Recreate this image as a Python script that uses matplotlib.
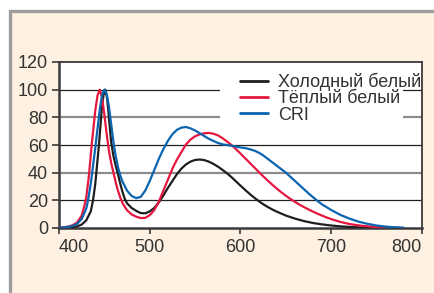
import matplotlib
matplotlib.use("Agg")
import matplotlib.pyplot as plt
from matplotlib.patches import Rectangle
import numpy as np

plt.rcParams['font.family'] = ['Liberation Sans Narrow', 'Liberation Sans', 'DejaVu Sans']

# ---- data ----
series_names = ["Холодный белый", "Тёплый белый", "CRI"]

cold_nm = [400, 405, 410, 415, 420, 425, 430, 435, 437.5, 440, 444, 447, 449, 451, 453, 455, 457.5,
           460, 462.5, 465, 467.5, 470, 472.5, 475, 480, 485, 490, 495, 500, 505, 510, 515, 520,
           525, 530, 535, 540, 545, 550, 555, 560, 565, 570, 575, 580, 585, 590, 595, 600, 605,
           610, 615, 620, 625, 630, 635, 640, 650, 660, 670, 680, 690, 700, 710, 720, 730, 740,
           750, 760, 770, 780]
cold_val = [0, 0.1, 0.3, 0.6, 1.2, 2.5, 5.5, 12, 20, 32, 60, 85, 96, 100, 94, 80, 62,
            52, 45, 39, 32, 26, 21, 17.8, 14.5, 12.4, 10.8, 10.6, 12, 14.5, 18.5, 23.5, 29,
            34, 39, 43, 46, 48, 49.2, 49.5, 49.1, 48, 46.4, 44.4, 42.1, 39.6, 36.8, 33.7, 30.6, 27.6,
            24.7, 22, 19.5, 17.2, 15.2, 13.4, 11.8, 9, 6.8, 5, 3.6, 2.6, 1.8, 1.2, 0.8, 0.5, 0.3,
            0.2, 0.1, 0.05, 0]

warm_nm = [400, 405, 410, 415, 420, 425, 428, 430, 433, 436, 440, 442.5, 445, 447.5, 450, 452.5, 455,
           457.5, 460, 462.5, 465, 467.5, 470, 475, 480, 485, 490, 495, 500, 505, 510, 515, 520,
           525, 530, 535, 540, 545, 550, 555, 560, 565, 570, 575, 580, 585, 590, 595, 600, 605,
           610, 615, 620, 625, 630, 635, 640, 645, 650, 655, 660, 665, 670, 675, 680, 685, 690,
           695, 700, 710, 720, 730, 740, 750, 760, 770, 780]
warm_val = [0.3, 0.5, 1, 2, 4, 9, 16, 22, 38, 60, 85, 96, 100, 94, 82, 68, 56,
            47, 40, 33, 27, 22, 18, 12.8, 9.8, 8.2, 7.2, 7.3, 9.3, 13, 19, 27, 35,
            43, 49.5, 55, 60.5, 64, 66.3, 67.7, 68.5, 68.7, 68.2, 67, 65, 62.6, 60, 57, 53.8, 50.5,
            47.2, 43.9, 40.6, 37.4, 34.3, 31.3, 28.5, 25.8, 23.3, 21, 18.9, 16.9, 15.1, 13.4, 11.8, 10.3, 8.9,
            7.6, 6.4, 4.4, 2.9, 1.9, 1.2, 0.7, 0.4, 0.2, 0]

cri_nm = [400, 405, 410, 415, 420, 425, 430, 432, 435, 440, 445, 447.5, 450, 452.5, 455, 457.5, 460,
          462.5, 465, 467.5, 470, 475, 480, 485, 490, 495, 500, 505, 510, 515, 520, 525, 530, 535,
          540, 545, 550, 555, 560, 565, 570, 575, 580, 585, 590, 595, 600, 605, 610, 615, 620,
          625, 630, 635, 640, 645, 650, 655, 660, 665, 670, 675, 680, 685, 690, 695, 700, 710,
          720, 730, 740, 750, 760, 770, 780]
cri_val = [0.2, 0.4, 0.8, 1.5, 3, 6.5, 14, 20, 32, 58, 86, 96, 100, 97, 88, 75, 62,
           52, 44, 38, 33.5, 27, 23.2, 21.6, 22.5, 27, 34, 42, 50, 57, 63, 67.8, 71, 72.6,
           73, 72, 70.5, 68.5, 66.5, 64.5, 63, 61.5, 60.5, 60, 59.5, 58.8, 58.2, 57.8, 57, 56, 54.5,
           52.5, 50, 47.5, 45, 42.5, 40, 37, 34, 31, 28, 25, 22.2, 19.5, 17, 15, 13, 9.5,
           6.8, 4.6, 3, 1.8, 1, 0.5, 0.1]

series_nm = [cold_nm, warm_nm, cri_nm]
series_val = [cold_val, warm_val, cri_val]
colors = ["#1e1e1e", "#e5173f", "#0a64b0"]

x_ticks = [400, 500, 600, 700, 800]
y_ticks = [0, 20, 40, 60, 80, 100, 120]

# ---- figure ----
W, H = 435, 293
fig = plt.figure(figsize=(W / 100, H / 100), dpi=100, facecolor="white")

# cream panel with grey border (background axes)
bg = fig.add_axes([0, 0, 1, 1], zorder=-10)
bg.set_xlim(0, W)
bg.set_ylim(H, 0)
bg.axis("off")
bg.add_patch(Rectangle((10.5, 10.5), W + 20, H + 20, facecolor="#fef1e1",
                       edgecolor="#9c9c9c", linewidth=2.4))

ax = fig.add_axes([59 / W, (H - 228) / H, 363 / W, 166 / H])
ax.set_facecolor("white")

ax.set_xlim(400, 800)
ax.set_ylim(0, 120)

# grid lines
for v in [20, 40, 60, 80, 100]:
    if v in (40, 80):
        ax.axhline(v, color="#8c8c8c", lw=1.6, zorder=1)
    else:
        ax.axhline(v, color="#222222", lw=0.9, zorder=1)

# white box behind legend
ax.add_patch(Rectangle((577.5, 71), 201.5, 50, facecolor="white", edgecolor="none", zorder=2))

for nm, val, c, name in zip(series_nm, series_val, colors, series_names):
    ax.plot(nm, val, color=c, lw=1.6, label=name, zorder=3,
            solid_joinstyle="round", solid_capstyle="round")

for s in ax.spines.values():
    s.set_color("#3a3a3a")
    s.set_linewidth(1.3)
ax.spines["left"].set_linewidth(1.8)
ax.spines["bottom"].set_linewidth(1.8)

ax.set_xticks(x_ticks)
ax.set_yticks(y_ticks)
ax.set_xticklabels([str(t) for t in x_ticks])
ax.set_yticklabels([str(t) for t in y_ticks])
ax.tick_params(axis="y", length=5, width=1.2, color="#3a3a3a", pad=3,
               labelsize=13, labelcolor="#333333")
ax.tick_params(axis="x", length=4, width=1.2, color="#3a3a3a", pad=4,
               labelsize=13, labelcolor="#333333")
xl = ax.get_xticklabels()
xl[0].set_horizontalalignment("left")
xl[-1].set_horizontalalignment("right")

leg = ax.legend(loc="upper left", bbox_to_anchor=((240 - 59) / 363, (228 - 73) / 166),
                frameon=False, fontsize=13, handlelength=1.55, handletextpad=0.55,
                labelspacing=-0.05, borderpad=0, borderaxespad=0)
for t in leg.get_texts():
    t.set_color("#333333")
for l in leg.get_lines():
    l.set_linewidth(2.0)

fig.savefig("out.png", dpi=100, facecolor="white")
